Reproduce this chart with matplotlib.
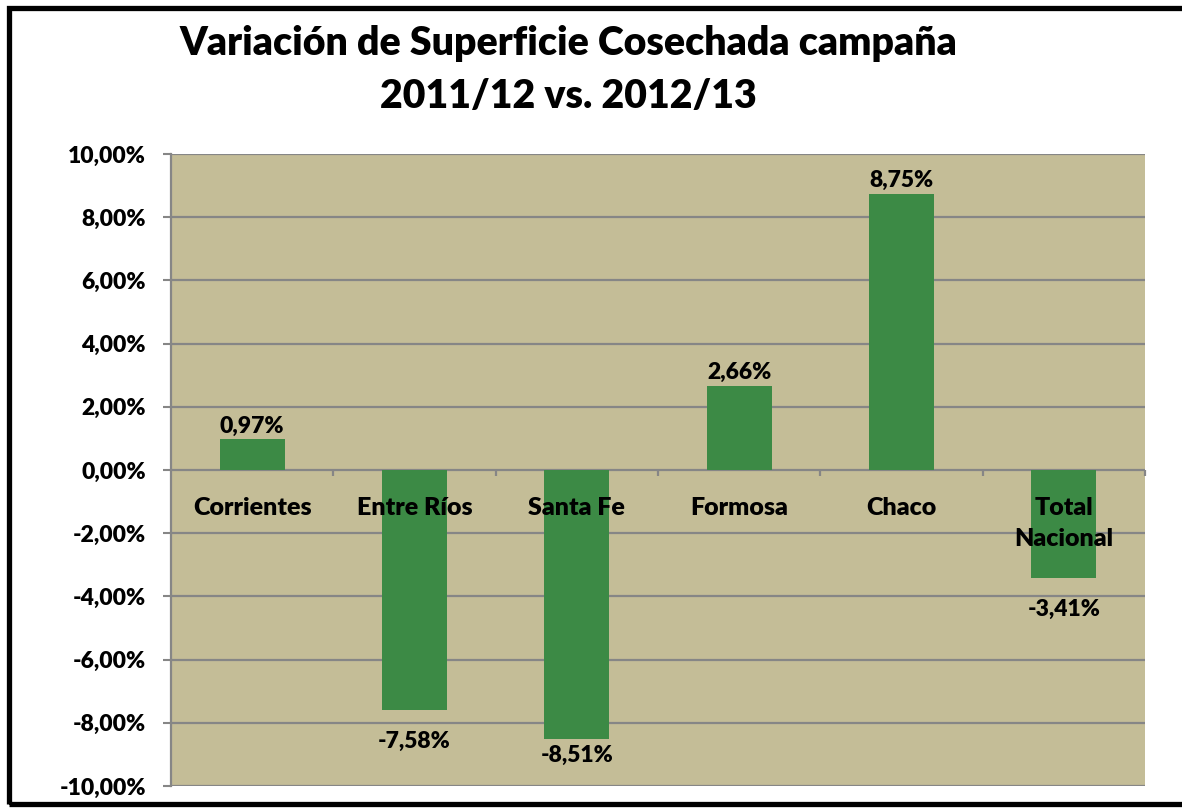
import matplotlib
matplotlib.use("Agg")
import matplotlib.pyplot as plt
from matplotlib.patches import Rectangle

categories = ["Corrientes", "Entre Ríos", "Santa Fe", "Formosa", "Chaco", "Total\nNacional"]
values = [0.97, -7.58, -8.51, 2.66, 8.75, -3.41]
yticks = [-10, -8, -6, -4, -2, 0, 2, 4, 6, 8, 10]

plt.rcParams['font.family'] = ['Lato', 'DejaVu Sans']
WT = 'heavy'

W, H = 1182, 809
fig = plt.figure(figsize=(W / 100, H / 100), dpi=100)
fig.patch.set_facecolor("white")

ax = fig.add_axes([171 / W, 1 - 786 / H, (1145 - 171) / W, (786 - 154) / H])
ax.set_facecolor("#C4BD97")

x = list(range(len(categories)))
ax.bar(x, values, width=0.4, color="#3C8A45", zorder=3)
ax.set_xlim(-0.5, len(categories) - 0.5)
ax.set_ylim(-10, 10)
ax.set_yticks(yticks)
ax.set_yticklabels([f"{v:.2f}%".replace(".", ",") for v in yticks], fontsize=16.5, fontweight=WT)
ax.tick_params(axis='y', length=6, width=1.5, color="#868686", pad=12)
ax.set_xticks([])
ax.yaxis.grid(True, color="#868686", linewidth=1.6, zorder=1)
for s in ["top", "right", "bottom"]:
    ax.spines[s].set_visible(False)
ax.spines["left"].set_color("#868686")
ax.spines["left"].set_linewidth(1.6)

# category-axis tick marks at boundaries on the zero line
for b in [i + 0.5 for i in range(len(categories))]:
    ax.plot([b, b], [0, -0.18], color="#868686", linewidth=1.6, zorder=2,
            solid_capstyle='butt', clip_on=False)

for xi, v, c in zip(x, values, categories):
    lab = f"{v:.2f}%".replace(".", ",")
    if v >= 0:
        ax.annotate(lab, (xi, v), xytext=(0, 2), textcoords="offset points",
                    ha="center", va="bottom", fontsize=16.5, fontweight=WT, zorder=5)
    else:
        ypos = max(v - 1.0, -9.02)
        ax.text(xi, ypos, lab, ha="center", va="center", fontsize=16.5,
                fontweight=WT, zorder=5)
    ax.annotate(c, (xi, 0), xytext=(0, -19.5), textcoords="offset points",
                ha="center", va="top", fontsize=18, fontweight=WT, zorder=5,
                linespacing=1.5)

fig.text(568 / W, 1 - 44 / H, "Variación de Superficie Cosechada campaña",
         ha="center", va="center", fontsize=28.3, fontweight=WT)
fig.text(568 / W, 1 - 97 / H, "2011/12 vs. 2012/13",
         ha="center", va="center", fontsize=28.3, fontweight=WT)

border = Rectangle((9.5 / W, 1 - 804 / H), (1200 - 9.5) / W, (804 - 8) / H,
                   transform=fig.transFigure, fill=False, edgecolor="black",
                   linewidth=3.8, clip_on=False)
fig.patches.append(border)

fig.savefig("out.png", dpi=100, facecolor="white")
